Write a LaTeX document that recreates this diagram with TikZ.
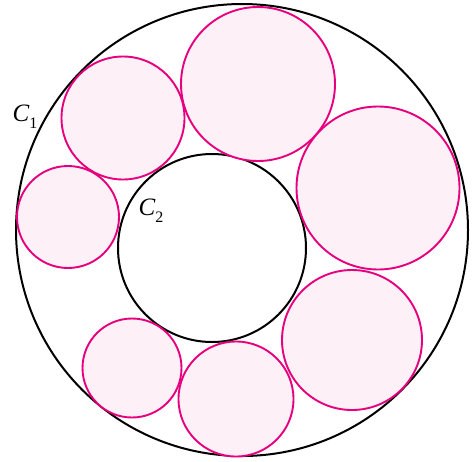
\documentclass[tikz,border=0pt]{standalone}
\usepackage{fontspec}
\setmainfont{Liberation Serif}
\begin{document}
\begin{tikzpicture}[x=1pt,y=-1pt,
  bigc/.style={draw=black,line width=2pt},
  pinkc/.style={draw=pinkline,fill=pinkfill,line width=1.9pt},
  lab/.style={inner sep=0pt,font=\fontsize{25}{27}\selectfont}]
\definecolor{pinkline}{HTML}{E6007E}
\definecolor{pinkfill}{HTML}{FDF0F7}
\useasboundingbox (0,0) rectangle (473,461);
\draw[bigc] (242,230) circle (226);
\draw[bigc] (212,248) circle (94);
\draw[pinkc] (123,118) circle (61.5);
\draw[pinkc] (258,84) circle (77);
\draw[pinkc] (378,188) circle (81.5);
\draw[pinkc] (68,217) circle (51);
\draw[pinkc] (352,340) circle (70);
\draw[pinkc] (132,368) circle (49.5);
\draw[pinkc] (236,399) circle (57.5);
\node[lab] (c1) at (25,117) {\textit{C}\raisebox{-0.28em}{\fontsize{16}{17}\selectfont 1}};
\node[lab] (c2) at (151,211) {\textit{C}\raisebox{-0.28em}{\fontsize{16}{17}\selectfont 2}};
\end{tikzpicture}
\end{document}
